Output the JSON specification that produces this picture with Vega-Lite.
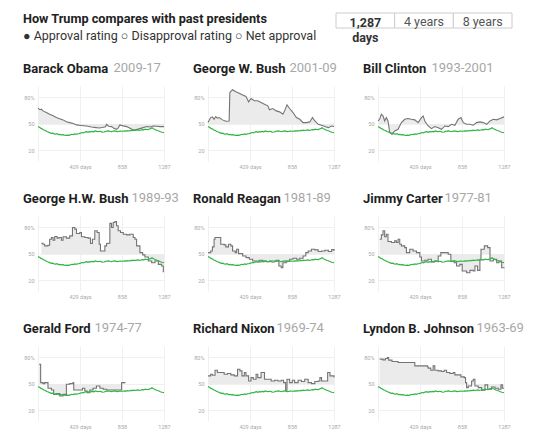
{
  "$schema": "https://vega.github.io/schema/vega-lite/v6.json",
  "description": "How Trump compares with past presidents: approval rating over the first 1,287 days",
  "background": "#ffffff",
  "padding": {"left": 23, "top": 12, "right": 5, "bottom": 5},
  "datasets": {
    "header": [
      {"block": "heading", "row": "r1", "label": "How Trump compares with past presidents"},
      {"block": "heading", "row": "r2", "label": "● Approval rating   ○ Disapproval rating   ○ Net approval"}
    ],
    "buttons": [
      {"option": "1,287", "row": "r1", "label": "1,287"},
      {"option": "4 years", "row": "r1", "label": "4 years"},
      {"option": "8 years", "row": "r1", "label": "8 years"},
      {"option": "1,287", "row": "r2", "label": "days"}
    ],
    "trump": [
      {"day":0,"approval":47.0},{"day":15,"approval":46.2},{"day":30,"approval":45.0},{"day":45,"approval":44.3},{"day":60,"approval":43.1},{"day":75,"approval":42.6},{"day":90,"approval":41.5},{"day":105,"approval":40.8},{"day":120,"approval":40.1},{"day":135,"approval":39.4},{"day":150,"approval":39.6},{"day":165,"approval":38.8},{"day":180,"approval":38.5},{"day":195,"approval":38.9},{"day":210,"approval":37.8},{"day":225,"approval":38.2},{"day":240,"approval":37.6},{"day":255,"approval":37.9},{"day":270,"approval":37.3},{"day":285,"approval":37.0},{"day":300,"approval":37.4},{"day":315,"approval":37.1},{"day":330,"approval":37.6},{"day":345,"approval":38.3},{"day":360,"approval":38.0},{"day":375,"approval":38.6},{"day":390,"approval":38.2},{"day":405,"approval":38.9},{"day":420,"approval":39.1},{"day":435,"approval":39.6},{"day":450,"approval":40.3},{"day":465,"approval":40.0},{"day":480,"approval":40.8},{"day":495,"approval":41.2},{"day":510,"approval":40.6},{"day":525,"approval":41.3},{"day":540,"approval":41.1},{"day":555,"approval":41.6},{"day":570,"approval":41.0},{"day":585,"approval":42.0},{"day":600,"approval":41.5},{"day":615,"approval":41.2},{"day":630,"approval":41.7},{"day":645,"approval":41.3},{"day":660,"approval":40.6},{"day":675,"approval":40.9},{"day":690,"approval":41.5},{"day":705,"approval":41.8},{"day":720,"approval":42.2},{"day":735,"approval":41.7},{"day":750,"approval":41.3},{"day":765,"approval":41.7},{"day":780,"approval":42.1},{"day":795,"approval":41.8},{"day":810,"approval":41.3},{"day":825,"approval":41.6},{"day":840,"approval":42.0},{"day":855,"approval":41.8},{"day":870,"approval":41.7},{"day":885,"approval":42.2},{"day":900,"approval":41.9},{"day":915,"approval":42.3},{"day":930,"approval":42.0},{"day":945,"approval":42.6},{"day":960,"approval":42.4},{"day":975,"approval":43.0},{"day":990,"approval":42.6},{"day":1005,"approval":42.9},{"day":1020,"approval":43.3},{"day":1035,"approval":42.8},{"day":1050,"approval":43.1},{"day":1065,"approval":43.6},{"day":1080,"approval":43.4},{"day":1095,"approval":44.0},{"day":1110,"approval":43.7},{"day":1125,"approval":43.6},{"day":1140,"approval":44.3},{"day":1155,"approval":45.0},{"day":1165,"approval":45.6},{"day":1175,"approval":44.8},{"day":1190,"approval":43.9},{"day":1205,"approval":43.2},{"day":1220,"approval":42.5},{"day":1235,"approval":42.0},{"day":1250,"approval":41.2},{"day":1265,"approval":40.6},{"day":1280,"approval":40.3},{"day":1287,"approval":40.1}
    ],
    "obama": [
      {"day":0,"approval":67.9},{"day":20,"approval":66.2},{"day":35,"approval":66.8},{"day":51,"approval":64.8},{"day":85,"approval":63.0},{"day":119,"approval":61.0},{"day":150,"approval":59.5},{"day":188,"approval":57.2},{"day":220,"approval":56.0},{"day":256,"approval":54.6},{"day":290,"approval":52.4},{"day":324,"approval":51.5},{"day":360,"approval":50.4},{"day":393,"approval":48.9},{"day":440,"approval":48.3},{"day":495,"approval":47.7},{"day":545,"approval":46.6},{"day":597,"approval":45.8},{"day":630,"approval":45.4},{"day":666,"approval":46.2},{"day":690,"approval":46.9},{"day":700,"approval":49.6},{"day":720,"approval":47.4},{"day":751,"approval":47.0},{"day":775,"approval":45.0},{"day":802,"approval":43.9},{"day":820,"approval":45.5},{"day":836,"approval":48.9},{"day":870,"approval":47.8},{"day":905,"approval":47.0},{"day":940,"approval":45.0},{"day":973,"approval":43.2},{"day":1005,"approval":43.6},{"day":1041,"approval":44.7},{"day":1075,"approval":45.8},{"day":1110,"approval":47.0},{"day":1145,"approval":46.5},{"day":1178,"approval":47.7},{"day":1212,"approval":47.4},{"day":1246,"approval":47.0},{"day":1287,"approval":47.0}
    ],
    "gwbush": [
      {"day":0,"approval":51.5},{"day":27,"approval":57.2},{"day":45,"approval":58.0},{"day":62,"approval":55.3},{"day":79,"approval":58.4},{"day":96,"approval":56.5},{"day":113,"approval":57.2},{"day":148,"approval":54.6},{"day":182,"approval":53.0},{"day":216,"approval":53.4},{"day":223,"approval":85.7},{"day":251,"approval":88.7},{"day":285,"approval":86.5},{"day":319,"approval":84.9},{"day":354,"approval":82.7},{"day":388,"approval":81.1},{"day":415,"approval":75.0},{"day":439,"approval":78.9},{"day":474,"approval":76.2},{"day":508,"approval":76.2},{"day":542,"approval":74.3},{"day":577,"approval":72.4},{"day":611,"approval":70.5},{"day":628,"approval":66.0},{"day":662,"approval":67.5},{"day":697,"approval":64.8},{"day":731,"approval":63.7},{"day":765,"approval":61.0},{"day":782,"approval":64.8},{"day":807,"approval":71.6},{"day":834,"approval":67.5},{"day":868,"approval":62.9},{"day":903,"approval":57.2},{"day":937,"approval":55.3},{"day":971,"approval":51.5},{"day":1006,"approval":51.5},{"day":1040,"approval":52.3},{"day":1067,"approval":57.2},{"day":1091,"approval":53.4},{"day":1126,"approval":49.6},{"day":1160,"approval":48.5},{"day":1194,"approval":47.0},{"day":1229,"approval":45.8},{"day":1263,"approval":47.7},{"day":1287,"approval":47.0}
    ],
    "clinton": [
      {"day":0,"approval":53.4},{"day":17,"approval":55.3},{"day":34,"approval":61.0},{"day":51,"approval":59.1},{"day":68,"approval":53.4},{"day":85,"approval":57.2},{"day":102,"approval":53.4},{"day":119,"approval":40.9},{"day":143,"approval":38.2},{"day":171,"approval":42.0},{"day":205,"approval":43.9},{"day":239,"approval":51.5},{"day":273,"approval":55.3},{"day":307,"approval":56.1},{"day":341,"approval":55.3},{"day":376,"approval":54.6},{"day":410,"approval":51.5},{"day":444,"approval":57.2},{"day":461,"approval":59.1},{"day":478,"approval":53.4},{"day":512,"approval":47.7},{"day":546,"approval":44.7},{"day":580,"approval":47.0},{"day":615,"approval":45.8},{"day":649,"approval":43.9},{"day":683,"approval":47.7},{"day":717,"approval":47.0},{"day":751,"approval":49.6},{"day":785,"approval":48.5},{"day":819,"approval":55.3},{"day":847,"approval":57.2},{"day":871,"approval":51.5},{"day":905,"approval":49.6},{"day":939,"approval":49.6},{"day":973,"approval":48.5},{"day":1007,"approval":51.5},{"day":1041,"approval":52.3},{"day":1075,"approval":51.5},{"day":1110,"approval":49.6},{"day":1144,"approval":53.4},{"day":1178,"approval":55.3},{"day":1212,"approval":54.6},{"day":1246,"approval":56.1},{"day":1287,"approval":58.0}
    ],
    "hwbush": [
      {"day":34,"approval":62.2},{"day":51,"approval":61.0},{"day":68,"approval":59.1},{"day":102,"approval":59.9},{"day":119,"approval":66.7},{"day":137,"approval":68.6},{"day":154,"approval":65.6},{"day":171,"approval":69.7},{"day":195,"approval":67.9},{"day":215,"approval":68.6},{"day":239,"approval":65.6},{"day":256,"approval":69.4},{"day":290,"approval":67.9},{"day":324,"approval":70.5},{"day":352,"approval":80.0},{"day":376,"approval":78.1},{"day":393,"approval":73.2},{"day":427,"approval":74.3},{"day":444,"approval":69.4},{"day":478,"approval":68.6},{"day":512,"approval":67.9},{"day":536,"approval":61.8},{"day":556,"approval":66.7},{"day":580,"approval":76.2},{"day":604,"approval":74.3},{"day":625,"approval":61.0},{"day":638,"approval":53.4},{"day":666,"approval":53.4},{"day":683,"approval":59.1},{"day":700,"approval":61.8},{"day":717,"approval":62.2},{"day":734,"approval":84.6},{"day":751,"approval":80.0},{"day":768,"approval":85.7},{"day":785,"approval":86.8},{"day":802,"approval":81.9},{"day":819,"approval":76.2},{"day":843,"approval":74.3},{"day":871,"approval":72.4},{"day":905,"approval":71.6},{"day":939,"approval":72.4},{"day":973,"approval":68.6},{"day":990,"approval":66.7},{"day":1007,"approval":59.1},{"day":1041,"approval":51.5},{"day":1069,"approval":48.9},{"day":1092,"approval":46.6},{"day":1127,"approval":42.0},{"day":1161,"approval":40.1},{"day":1195,"approval":42.0},{"day":1229,"approval":38.2},{"day":1263,"approval":36.3},{"day":1280,"approval":29.9},{"day":1287,"approval":29.9}
    ],
    "reagan": [
      {"day":0,"approval":51.5},{"day":27,"approval":53.4},{"day":45,"approval":58.0},{"day":62,"approval":66.7},{"day":72,"approval":68.6},{"day":113,"approval":68.6},{"day":130,"approval":61.0},{"day":165,"approval":60.3},{"day":182,"approval":58.0},{"day":209,"approval":61.0},{"day":233,"approval":59.1},{"day":251,"approval":53.4},{"day":278,"approval":51.5},{"day":292,"approval":55.3},{"day":312,"approval":50.4},{"day":354,"approval":47.7},{"day":388,"approval":45.8},{"day":422,"approval":43.9},{"day":456,"approval":42.0},{"day":491,"approval":42.0},{"day":525,"approval":42.8},{"day":559,"approval":42.0},{"day":594,"approval":41.3},{"day":628,"approval":42.0},{"day":662,"approval":42.0},{"day":697,"approval":42.8},{"day":724,"approval":36.3},{"day":748,"approval":34.4},{"day":765,"approval":40.1},{"day":800,"approval":42.0},{"day":834,"approval":43.9},{"day":868,"approval":45.1},{"day":903,"approval":43.9},{"day":937,"approval":45.1},{"day":971,"approval":47.7},{"day":999,"approval":51.5},{"day":1023,"approval":53.4},{"day":1057,"approval":55.3},{"day":1091,"approval":54.6},{"day":1126,"approval":52.7},{"day":1160,"approval":53.4},{"day":1194,"approval":54.2},{"day":1229,"approval":52.7},{"day":1263,"approval":54.9},{"day":1287,"approval":53.4}
    ],
    "carter": [
      {"day":17,"approval":66.7},{"day":34,"approval":71.6},{"day":51,"approval":76.2},{"day":68,"approval":69.4},{"day":85,"approval":72.4},{"day":102,"approval":64.1},{"day":137,"approval":62.9},{"day":171,"approval":64.8},{"day":188,"approval":62.9},{"day":205,"approval":66.7},{"day":222,"approval":61.0},{"day":239,"approval":59.1},{"day":273,"approval":57.2},{"day":290,"approval":51.5},{"day":324,"approval":55.3},{"day":358,"approval":53.4},{"day":393,"approval":51.5},{"day":427,"approval":46.6},{"day":444,"approval":42.0},{"day":478,"approval":42.8},{"day":512,"approval":43.9},{"day":546,"approval":40.9},{"day":580,"approval":42.0},{"day":615,"approval":47.7},{"day":642,"approval":51.5},{"day":683,"approval":51.5},{"day":717,"approval":49.6},{"day":744,"approval":42.0},{"day":778,"approval":40.1},{"day":802,"approval":36.3},{"day":836,"approval":38.2},{"day":860,"approval":30.6},{"day":905,"approval":28.7},{"day":939,"approval":31.4},{"day":973,"approval":30.6},{"day":990,"approval":36.3},{"day":1017,"approval":31.4},{"day":1041,"approval":43.9},{"day":1052,"approval":55.3},{"day":1086,"approval":59.1},{"day":1120,"approval":57.2},{"day":1144,"approval":42.0},{"day":1178,"approval":43.9},{"day":1212,"approval":40.1},{"day":1236,"approval":42.0},{"day":1263,"approval":34.4},{"day":1287,"approval":33.7}
    ],
    "ford": [
      {"day":10,"approval":72.4},{"day":27,"approval":51.5},{"day":51,"approval":50.4},{"day":68,"approval":51.5},{"day":102,"approval":45.1},{"day":137,"approval":43.2},{"day":160,"approval":38.2},{"day":188,"approval":39.0},{"day":222,"approval":36.3},{"day":256,"approval":38.2},{"day":290,"approval":49.6},{"day":324,"approval":50.4},{"day":358,"approval":51.5},{"day":365,"approval":43.2},{"day":427,"approval":43.2},{"day":454,"approval":45.1},{"day":478,"approval":42.0},{"day":502,"approval":40.1},{"day":529,"approval":43.2},{"day":563,"approval":45.1},{"day":597,"approval":47.7},{"day":632,"approval":45.1},{"day":666,"approval":43.9},{"day":700,"approval":43.2},{"day":768,"approval":43.2},{"day":854,"approval":51.5},{"day":888,"approval":51.9}
    ],
    "nixon": [
      {"day":0,"approval":59.1},{"day":27,"approval":61.0},{"day":45,"approval":59.9},{"day":72,"approval":65.6},{"day":96,"approval":62.9},{"day":130,"approval":62.9},{"day":165,"approval":61.0},{"day":199,"approval":61.8},{"day":233,"approval":60.3},{"day":268,"approval":59.1},{"day":302,"approval":66.7},{"day":326,"approval":64.8},{"day":347,"approval":59.1},{"day":371,"approval":62.9},{"day":388,"approval":59.1},{"day":415,"approval":53.4},{"day":439,"approval":57.2},{"day":463,"approval":55.3},{"day":491,"approval":61.0},{"day":508,"approval":57.2},{"day":542,"approval":62.9},{"day":577,"approval":55.3},{"day":611,"approval":55.3},{"day":645,"approval":53.4},{"day":680,"approval":54.2},{"day":714,"approval":53.4},{"day":748,"approval":54.2},{"day":772,"approval":51.5},{"day":793,"approval":42.8},{"day":807,"approval":55.3},{"day":834,"approval":51.5},{"day":861,"approval":54.2},{"day":885,"approval":51.5},{"day":920,"approval":54.2},{"day":954,"approval":52.7},{"day":988,"approval":55.3},{"day":1023,"approval":51.5},{"day":1057,"approval":50.4},{"day":1091,"approval":52.7},{"day":1126,"approval":53.4},{"day":1143,"approval":57.2},{"day":1160,"approval":53.4},{"day":1194,"approval":53.4},{"day":1222,"approval":62.9},{"day":1246,"approval":59.1},{"day":1287,"approval":57.2}
    ],
    "lbj": [
      {"day":17,"approval":78.1},{"day":51,"approval":77.3},{"day":75,"approval":78.9},{"day":96,"approval":80.0},{"day":109,"approval":77.0},{"day":143,"approval":75.4},{"day":205,"approval":74.3},{"day":273,"approval":74.3},{"day":369,"approval":74.3},{"day":376,"approval":70.5},{"day":444,"approval":70.5},{"day":505,"approval":69.4},{"day":512,"approval":67.9},{"day":539,"approval":65.6},{"day":563,"approval":70.5},{"day":580,"approval":65.6},{"day":615,"approval":64.8},{"day":649,"approval":64.1},{"day":676,"approval":65.6},{"day":700,"approval":62.9},{"day":734,"approval":61.8},{"day":768,"approval":62.9},{"day":785,"approval":60.3},{"day":819,"approval":60.3},{"day":847,"approval":58.0},{"day":881,"approval":57.2},{"day":894,"approval":51.5},{"day":905,"approval":45.8},{"day":922,"approval":47.7},{"day":956,"approval":53.4},{"day":973,"approval":55.3},{"day":990,"approval":47.7},{"day":1024,"approval":45.8},{"day":1058,"approval":42.8},{"day":1093,"approval":48.9},{"day":1120,"approval":43.9},{"day":1161,"approval":46.6},{"day":1195,"approval":45.1},{"day":1229,"approval":43.9},{"day":1256,"approval":48.9},{"day":1270,"approval":45.1},{"day":1287,"approval":45.1}
    ]
  },
  "spacing": 17,
  "vconcat": [
    {
      "width": 474,
      "height": 30,
      "resolve": {"scale": {"x": "independent"}},
      "encoding": {
        "y": {"field": "row", "type": "nominal", "sort": ["r1", "r2"], "scale": {"paddingInner": 0, "paddingOuter": 0}, "axis": null}
      },
      "layer": [
        {
          "data": {"name": "header"},
          "transform": [{"filter": "datum.row == 'r1'"}],
          "mark": {"type": "text", "align": "left", "font": "Roboto", "fontSize": 12.7, "fontWeight": "bold", "color": "#222222", "dx": -15, "dy": -1.5},
          "encoding": {"x": {"field": "block", "type": "nominal", "scale": {"type": "point", "padding": 0, "align": 0}, "axis": null}, "text": {"field": "label", "type": "nominal"}}
        },
        {
          "data": {"name": "header"},
          "transform": [{"filter": "datum.row == 'r2'"}],
          "mark": {"type": "text", "align": "left", "font": "Roboto", "fontSize": 12.5, "color": "#333333", "dx": -15},
          "encoding": {"x": {"field": "block", "type": "nominal", "scale": {"type": "point", "padding": 0, "align": 0}, "axis": null}, "text": {"field": "label", "type": "nominal"}}
        },
        {
          "data": {"name": "buttons"},
          "encoding": {
            "x": {"field": "option", "type": "nominal", "scale": {"domain": ["1,287", "4 years", "8 years"], "range": [298, 474], "paddingInner": 0, "paddingOuter": 0}, "axis": null}
          },
          "layer": [
            {"transform": [{"filter": "datum.row == 'r1'"}], "mark": {"type": "rect", "fill": "#ffffff", "stroke": "#cccccc", "strokeWidth": 1}},
            {"transform": [{"filter": "datum.option == '1,287'"}], "mark": {"type": "text", "font": "Roboto", "fontSize": 12.5, "fontWeight": "bold", "color": "#333333", "dy": 2}, "encoding": {"text": {"field": "label", "type": "nominal"}}},
            {"transform": [{"filter": "datum.option != '1,287'"}], "mark": {"type": "text", "font": "Roboto", "fontSize": 12.5, "color": "#555555", "dy": 1}, "encoding": {"text": {"field": "label", "type": "nominal"}}}
          ]
        }
      ]
    },
    {
      "columns": 3,
      "spacing": {"row": 55, "column": 44},
      "bounds": "flush",
      "concat": [
        {
          "title": "Barack Obama",
          "width": 126, "height": 75,
          "encoding": {
            "x": {"field": "day", "type": "quantitative", "title": null, "scale": {"domain": [0, 1287], "nice": false}, "axis": {"values": [0, 429, 858, 1287], "format": "d", "labelExpr": "datum.value == 0 ? '' : datum.value == 429 ? '429 days' : datum.label"}},
            "y": {"field": "approval", "type": "quantitative", "scale": {"domain": [8, 93], "nice": false, "zero": false}, "axis": {"title": "2009-17", "titleX": 75, "titleY": -14.5, "values": [20, 50, 80], "labelExpr": "datum.value == 80 ? '80%' : datum.label"}}
          },
          "layer": [
            {"data": {"name": "obama"}, "mark": {"type": "area", "color": "#ebebeb"}, "encoding": {"y2": {"datum": 50}}},
            {"data": {"name": "obama"}, "mark": {"type": "line", "color": "#747474", "strokeWidth": 1.1}},
            {"data": {"values": [{}]}, "mark": {"type": "rule", "color": "#8c8c8c"}, "encoding": {"x": {"datum": 0}, "x2": {"datum": 1287}, "y": {"datum": 50}}},
            {"data": {"name": "trump"}, "mark": {"type": "line", "color": "#2fb543", "strokeWidth": 1.2}}
          ]
        },
        {
          "title": "George W. Bush",
          "width": 126, "height": 75,
          "encoding": {
            "x": {"field": "day", "type": "quantitative", "title": null, "scale": {"domain": [0, 1287], "nice": false}, "axis": {"values": [0, 429, 858, 1287], "format": "d", "labelExpr": "datum.value == 0 ? '' : datum.value == 429 ? '429 days' : datum.label"}},
            "y": {"field": "approval", "type": "quantitative", "scale": {"domain": [8, 93], "nice": false, "zero": false}, "axis": {"title": "2001-09", "titleX": 81, "titleY": -14.5, "values": [20, 50, 80], "labelExpr": "datum.value == 80 ? '80%' : datum.label"}}
          },
          "layer": [
            {"data": {"name": "gwbush"}, "mark": {"type": "area", "color": "#ebebeb"}, "encoding": {"y2": {"datum": 50}}},
            {"data": {"name": "gwbush"}, "mark": {"type": "line", "color": "#747474", "strokeWidth": 1.1}},
            {"data": {"values": [{}]}, "mark": {"type": "rule", "color": "#8c8c8c"}, "encoding": {"x": {"datum": 0}, "x2": {"datum": 1287}, "y": {"datum": 50}}},
            {"data": {"name": "trump"}, "mark": {"type": "line", "color": "#2fb543", "strokeWidth": 1.2}}
          ]
        },
        {
          "title": "Bill Clinton",
          "width": 126, "height": 75,
          "encoding": {
            "x": {"field": "day", "type": "quantitative", "title": null, "scale": {"domain": [0, 1287], "nice": false}, "axis": {"values": [0, 429, 858, 1287], "format": "d", "labelExpr": "datum.value == 0 ? '' : datum.value == 429 ? '429 days' : datum.label"}},
            "y": {"field": "approval", "type": "quantitative", "scale": {"domain": [8, 93], "nice": false, "zero": false}, "axis": {"title": "1993-2001", "titleX": 53, "titleY": -14.5, "values": [20, 50, 80], "labelExpr": "datum.value == 80 ? '80%' : datum.label"}}
          },
          "layer": [
            {"data": {"name": "clinton"}, "mark": {"type": "area", "color": "#ebebeb"}, "encoding": {"y2": {"datum": 50}}},
            {"data": {"name": "clinton"}, "mark": {"type": "line", "color": "#747474", "strokeWidth": 1.1}},
            {"data": {"values": [{}]}, "mark": {"type": "rule", "color": "#8c8c8c"}, "encoding": {"x": {"datum": 0}, "x2": {"datum": 1287}, "y": {"datum": 50}}},
            {"data": {"name": "trump"}, "mark": {"type": "line", "color": "#2fb543", "strokeWidth": 1.2}}
          ]
        },
        {
          "title": "George H.W. Bush",
          "width": 126, "height": 75,
          "encoding": {
            "x": {"field": "day", "type": "quantitative", "title": null, "scale": {"domain": [0, 1287], "nice": false}, "axis": {"values": [0, 429, 858, 1287], "format": "d", "labelExpr": "datum.value == 0 ? '' : datum.value == 429 ? '429 days' : datum.label"}},
            "y": {"field": "approval", "type": "quantitative", "scale": {"domain": [8, 93], "nice": false, "zero": false}, "axis": {"title": "1989-93", "titleX": 93, "titleY": -14.5, "values": [20, 50, 80], "labelExpr": "datum.value == 80 ? '80%' : datum.label"}}
          },
          "layer": [
            {"data": {"name": "hwbush"}, "mark": {"type": "area", "color": "#ebebeb", "interpolate": "step-after"}, "encoding": {"y2": {"datum": 50}}},
            {"data": {"name": "hwbush"}, "mark": {"type": "line", "color": "#747474", "strokeWidth": 1.1, "interpolate": "step-after"}},
            {"data": {"values": [{}]}, "mark": {"type": "rule", "color": "#8c8c8c"}, "encoding": {"x": {"datum": 0}, "x2": {"datum": 1287}, "y": {"datum": 50}}},
            {"data": {"name": "trump"}, "mark": {"type": "line", "color": "#2fb543", "strokeWidth": 1.2}}
          ]
        },
        {
          "title": "Ronald Reagan",
          "width": 126, "height": 75,
          "encoding": {
            "x": {"field": "day", "type": "quantitative", "title": null, "scale": {"domain": [0, 1287], "nice": false}, "axis": {"values": [0, 429, 858, 1287], "format": "d", "labelExpr": "datum.value == 0 ? '' : datum.value == 429 ? '429 days' : datum.label"}},
            "y": {"field": "approval", "type": "quantitative", "scale": {"domain": [8, 93], "nice": false, "zero": false}, "axis": {"title": "1981-89", "titleX": 75, "titleY": -14.5, "values": [20, 50, 80], "labelExpr": "datum.value == 80 ? '80%' : datum.label"}}
          },
          "layer": [
            {"data": {"name": "reagan"}, "mark": {"type": "area", "color": "#ebebeb", "interpolate": "step-after"}, "encoding": {"y2": {"datum": 50}}},
            {"data": {"name": "reagan"}, "mark": {"type": "line", "color": "#747474", "strokeWidth": 1.1, "interpolate": "step-after"}},
            {"data": {"values": [{}]}, "mark": {"type": "rule", "color": "#8c8c8c"}, "encoding": {"x": {"datum": 0}, "x2": {"datum": 1287}, "y": {"datum": 50}}},
            {"data": {"name": "trump"}, "mark": {"type": "line", "color": "#2fb543", "strokeWidth": 1.2}}
          ]
        },
        {
          "title": "Jimmy Carter",
          "width": 126, "height": 75,
          "encoding": {
            "x": {"field": "day", "type": "quantitative", "title": null, "scale": {"domain": [0, 1287], "nice": false}, "axis": {"values": [0, 429, 858, 1287], "format": "d", "labelExpr": "datum.value == 0 ? '' : datum.value == 429 ? '429 days' : datum.label"}},
            "y": {"field": "approval", "type": "quantitative", "scale": {"domain": [8, 93], "nice": false, "zero": false}, "axis": {"title": "1977-81", "titleX": 66, "titleY": -14.5, "values": [20, 50, 80], "labelExpr": "datum.value == 80 ? '80%' : datum.label"}}
          },
          "layer": [
            {"data": {"name": "carter"}, "mark": {"type": "area", "color": "#ebebeb", "interpolate": "step-after"}, "encoding": {"y2": {"datum": 50}}},
            {"data": {"name": "carter"}, "mark": {"type": "line", "color": "#747474", "strokeWidth": 1.1, "interpolate": "step-after"}},
            {"data": {"values": [{}]}, "mark": {"type": "rule", "color": "#8c8c8c"}, "encoding": {"x": {"datum": 0}, "x2": {"datum": 1287}, "y": {"datum": 50}}},
            {"data": {"name": "trump"}, "mark": {"type": "line", "color": "#2fb543", "strokeWidth": 1.2}}
          ]
        },
        {
          "title": "Gerald Ford",
          "width": 126, "height": 75,
          "encoding": {
            "x": {"field": "day", "type": "quantitative", "title": null, "scale": {"domain": [0, 1287], "nice": false}, "axis": {"values": [0, 429, 858, 1287], "format": "d", "labelExpr": "datum.value == 0 ? '' : datum.value == 429 ? '429 days' : datum.label"}},
            "y": {"field": "approval", "type": "quantitative", "scale": {"domain": [8, 93], "nice": false, "zero": false}, "axis": {"title": "1974-77", "titleX": 56, "titleY": -14.5, "values": [20, 50, 80], "labelExpr": "datum.value == 80 ? '80%' : datum.label"}}
          },
          "layer": [
            {"data": {"name": "ford"}, "mark": {"type": "area", "color": "#ebebeb", "interpolate": "step-after"}, "encoding": {"y2": {"datum": 50}}},
            {"data": {"name": "ford"}, "mark": {"type": "line", "color": "#747474", "strokeWidth": 1.1, "interpolate": "step-after"}},
            {"data": {"values": [{}]}, "mark": {"type": "rule", "color": "#8c8c8c"}, "encoding": {"x": {"datum": 0}, "x2": {"datum": 1287}, "y": {"datum": 50}}},
            {"data": {"name": "trump"}, "mark": {"type": "line", "color": "#2fb543", "strokeWidth": 1.2}}
          ]
        },
        {
          "title": "Richard Nixon",
          "width": 126, "height": 75,
          "encoding": {
            "x": {"field": "day", "type": "quantitative", "title": null, "scale": {"domain": [0, 1287], "nice": false}, "axis": {"values": [0, 429, 858, 1287], "format": "d", "labelExpr": "datum.value == 0 ? '' : datum.value == 429 ? '429 days' : datum.label"}},
            "y": {"field": "approval", "type": "quantitative", "scale": {"domain": [8, 93], "nice": false, "zero": false}, "axis": {"title": "1969-74", "titleX": 68, "titleY": -14.5, "values": [20, 50, 80], "labelExpr": "datum.value == 80 ? '80%' : datum.label"}}
          },
          "layer": [
            {"data": {"name": "nixon"}, "mark": {"type": "area", "color": "#ebebeb", "interpolate": "step-after"}, "encoding": {"y2": {"datum": 50}}},
            {"data": {"name": "nixon"}, "mark": {"type": "line", "color": "#747474", "strokeWidth": 1.1, "interpolate": "step-after"}},
            {"data": {"values": [{}]}, "mark": {"type": "rule", "color": "#8c8c8c"}, "encoding": {"x": {"datum": 0}, "x2": {"datum": 1287}, "y": {"datum": 50}}},
            {"data": {"name": "trump"}, "mark": {"type": "line", "color": "#2fb543", "strokeWidth": 1.2}}
          ]
        },
        {
          "title": "Lyndon B. Johnson",
          "width": 126, "height": 75,
          "encoding": {
            "x": {"field": "day", "type": "quantitative", "title": null, "scale": {"domain": [0, 1287], "nice": false}, "axis": {"values": [0, 429, 858, 1287], "format": "d", "labelExpr": "datum.value == 0 ? '' : datum.value == 429 ? '429 days' : datum.label"}},
            "y": {"field": "approval", "type": "quantitative", "scale": {"domain": [8, 93], "nice": false, "zero": false}, "axis": {"title": "1963-69", "titleX": 98, "titleY": -14.5, "values": [20, 50, 80], "labelExpr": "datum.value == 80 ? '80%' : datum.label"}}
          },
          "layer": [
            {"data": {"name": "lbj"}, "mark": {"type": "area", "color": "#ebebeb", "interpolate": "step-after"}, "encoding": {"y2": {"datum": 50}}},
            {"data": {"name": "lbj"}, "mark": {"type": "line", "color": "#747474", "strokeWidth": 1.1, "interpolate": "step-after"}},
            {"data": {"values": [{}]}, "mark": {"type": "rule", "color": "#8c8c8c"}, "encoding": {"x": {"datum": 0}, "x2": {"datum": 1287}, "y": {"datum": 50}}},
            {"data": {"name": "trump"}, "mark": {"type": "line", "color": "#2fb543", "strokeWidth": 1.2}}
          ]
        }
      ]
    }
  ],
  "config": {
    "font": "Roboto",
    "view": {"stroke": null},
    "axis": {"labelFont": "Roboto", "labelFontSize": 5.5, "labelColor": "#a8a8a8", "domain": false, "ticks": false, "grid": true, "gridColor": "#f0f0f0", "labelFlush": false, "labelOverlap": false},
    "axisX": {"labelPadding": 3},
    "axisY": {"labelPadding": 4, "titleAngle": 0, "titleAlign": "left", "titleBaseline": "alphabetic", "titleFont": "Roboto", "titleFontSize": 13, "titleFontWeight": "normal", "titleColor": "#a8a8a8", "titlePadding": 0},
    "title": {"anchor": "start", "frame": "group", "dx": -15, "offset": -14, "baseline": "alphabetic", "font": "Roboto", "fontSize": 13, "fontWeight": "bold", "color": "#1e1e1e"}
  }
}
